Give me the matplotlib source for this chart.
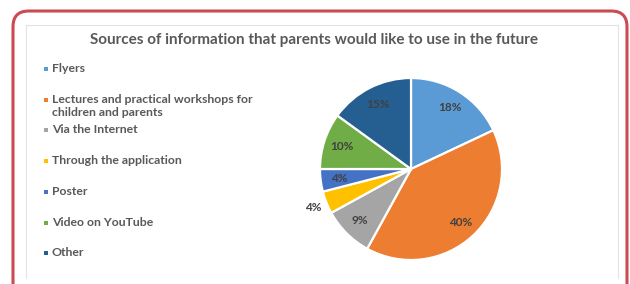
import matplotlib
matplotlib.use('Agg')
import matplotlib.pyplot as plt
from matplotlib.patches import FancyBboxPatch, Rectangle
from matplotlib.lines import Line2D

plt.rcParams['font.family'] = ['Lato', 'DejaVu Sans']

title = 'Sources of information that parents would like to use in the future'
labels = ['Flyers',
          'Lectures and practical workshops for\nchildren and parents',
          'Via the Internet',
          'Through the application',
          'Poster',
          'Video on YouTube',
          'Other']
shares = [18, 40, 9, 4, 4, 10, 15]
colors = ['#5b9bd5', '#ed7d31', '#a5a5a5', '#ffc000', '#4472c4', '#70ad47', '#255e91']

W, H = 630, 284
fig = plt.figure(figsize=(W / 100, H / 100), dpi=100)


def fx(px):
    return px / W


def fy(py):
    return 1 - py / H


# red rounded frame
frame = FancyBboxPatch((fx(13), fy(300)), fx(614), fy(11) - fy(300),
                       boxstyle='round,pad=0,rounding_size=0.025',
                       transform=fig.transFigure, fill=False,
                       edgecolor='#cc4a52', linewidth=2.2, mutation_aspect=W / H)
fig.patches.append(frame)

# light gray chart area border (left, top, right)
for xs, ys in [([26, 26], [25, 278]), ([26, 618], [25, 25]), ([618, 618], [25, 278])]:
    fig.add_artist(Line2D([fx(x) for x in xs], [fy(y) for y in ys],
                          transform=fig.transFigure, color='#e3e3e3', linewidth=0.8))

fig.text(fx(314), fy(40), title, ha='center', va='center',
         fontsize=11, fontweight='bold', color='#595959')

# pie
cx, cy, r = 411, 169, 91
ax = fig.add_axes([fx(cx - r), fy(cy + r), fx(2 * r), (2 * r) / H])
wedges, texts, autotexts = ax.pie(shares, colors=colors, startangle=90, counterclock=False,
                                  autopct='%.0f%%', pctdistance=0.8,
                                  wedgeprops=dict(edgecolor='white', linewidth=1.6),
                                  textprops=dict(fontsize=8.5, fontweight='bold', color='#404040'))
ax.set_xlim(-1, 1)
ax.set_ylim(-1, 1)
ax.set_aspect('equal')
ax.axis('off')
# small slice label placed outside
x0, y0 = autotexts[3].get_position()
autotexts[3].set_position((x0 * 1.45, y0 * 1.45))
autotexts[3].set_clip_on(False)

# legend, drawn Excel-style with equal pitch
top, step = 69, 30.7
for i, (lab, col) in enumerate(zip(labels, colors)):
    y = top + i * step
    fig.add_artist(Rectangle((fx(44), fy(y + 2)), fx(4), 4 / H,
                             transform=fig.transFigure, facecolor=col, edgecolor='none'))
    fig.text(fx(52), fy(y - 6), lab, ha='left', va='top', fontsize=8.8,
             fontweight='bold', color='#595959', linespacing=1.2)

fig.savefig('out.png', dpi=100)
